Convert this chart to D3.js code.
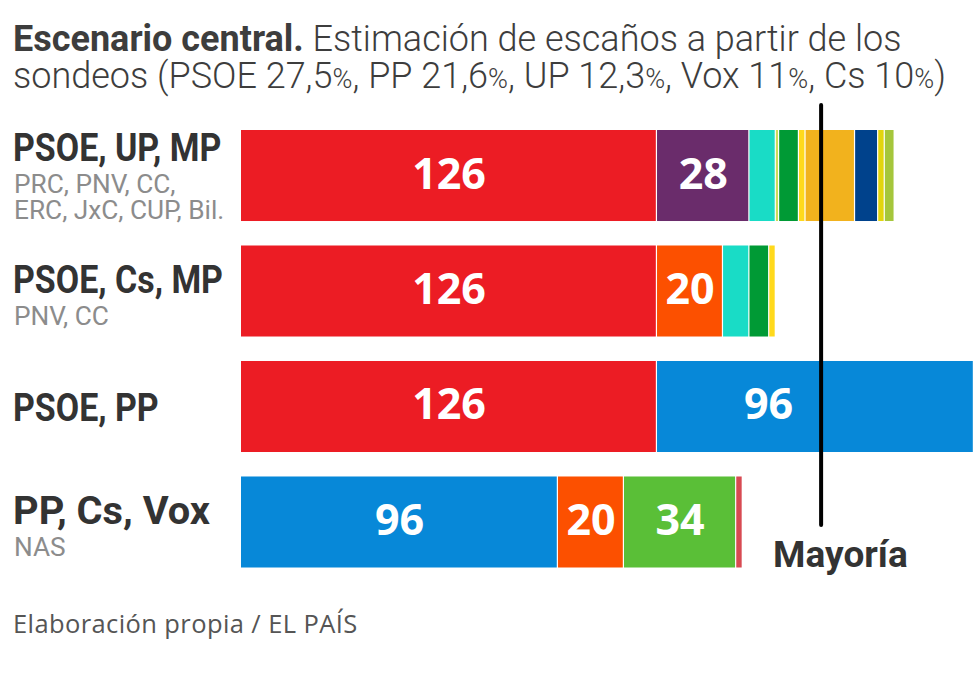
<!DOCTYPE html>
<html>
<head>
<meta charset="utf-8">
<script src="https://cdn.jsdelivr.net/npm/d3@7"></script>
<style>
  html, body { margin: 0; padding: 0; background: #fff; }
  svg { display: block; }
</style>
</head>
<body>
<svg id="chart" width="980" height="677"></svg>
<script>
// ---- Data ----
const coalitions = ["PSOE, UP, MP", "PSOE, Cs, MP", "PSOE, PP", "PP, Cs, Vox"];
const partners = [["PRC, PNV, CC,", "ERC, JxC, CUP, Bil."], ["PNV, CC"], [], ["NAS"]];
const barParties = [
  ["PSOE", "UP", "MP", "PRC", "PNV", "CC", "ERC", "JxC", "CUP", "Bil"],
  ["PSOE", "Cs", "MP", "PNV", "CC"],
  ["PSOE", "PP"],
  ["PP", "Cs", "Vox", "NAS"]
];
const barSeats = [
  [126, 28, 8, 1, 6, 2, 15, 7, 2, 3],
  [126, 20, 8, 6, 2],
  [126, 96],
  [96, 20, 34, 2]
];
const partyNames = ["PSOE", "UP", "MP", "PRC", "PNV", "CC", "ERC", "JxC", "CUP", "Bil", "Cs", "PP", "Vox", "NAS"];
const partyColors = ["#ec1c24", "#6a2c6b", "#19dcc6", "#c9dc5a", "#009a35", "#ffd91c", "#f2b21d", "#00428c", "#e2d50e", "#a5c63b", "#fc5000", "#0788d8", "#5abf37", "#d84a52"];
const majority = 176;
const maxSeats = 222;
const titleBold = "Escenario central.";
const titleLine1 = " Estimación de escaños a partir de los";
const titleLine2 = [["sondeos (PSOE 27,5", "%"], [", PP 21,6", "%"], [", UP 12,3", "%"], [", Vox 11", "%"], [", Cs 10", "%"], [")", ""]];
const majorityLabel = "Mayoría";
const source = "Elaboración propia / EL PAÍS";

// ---- Setup ----
const svg = d3.select("#chart");
const color = d3.scaleOrdinal().domain(partyNames).range(partyColors);
const x = d3.scaleLinear().domain([0, maxSeats]).range([241, 974]);
const y = d3.scaleBand().domain(coalitions).range([130, 567.5]).paddingInner(0.212).paddingOuter(0);

const condFont = "Roboto, 'Liberation Sans', sans-serif";
const numFont = "'Open Sans', sans-serif";
const sx = 0.87; // condensed look

// ---- Title ----
const title = svg.append("g").attr("transform", `translate(13,0)`);
const t1 = title.append("text").attr("x", 0).attr("y", 51)
  .attr("font-family", condFont).attr("font-size", 36).attr("fill", "#3d3d3d");
t1.append("tspan").attr("font-weight", 700).text(titleBold);
t1.append("tspan").attr("font-weight", 300).text(titleLine1);
const t2 = title.append("text").attr("x", 0).attr("y", 88)
  .attr("font-family", condFont).attr("font-size", 36).attr("font-weight", 300).attr("fill", "#3d3d3d");
titleLine2.forEach(([a, b]) => {
  t2.append("tspan").text(a);
  if (b) t2.append("tspan").attr("font-size", 27).text(b);
});

// ---- Bars ----
const rows = coalitions.map((c, i) => {
  let acc = 0;
  const segs = barParties[i].map((p, j) => {
    const s = { party: p, v: barSeats[i][j], x0: acc, x1: acc + barSeats[i][j] };
    acc += barSeats[i][j];
    return s;
  });
  return { name: c, idx: i, partners: partners[i], segs };
});

const rowG = svg.selectAll("g.row").data(rows).join("g").attr("class", "row");

rowG.selectAll("rect").data(d => d.segs.map(s => ({ ...s, row: d.name })))
  .join("rect")
  .attr("x", d => x(d.x0))
  .attr("y", d => y(d.row))
  .attr("width", d => Math.max(0.8, x(d.x1) - x(d.x0) - 1.2))
  .attr("height", y.bandwidth())
  .attr("fill", d => color(d.party));

// ---- Majority line ----
const mx = x(majority) - 1;
svg.append("line")
  .attr("x1", mx).attr("x2", mx)
  .attr("y1", 105).attr("y2", 525)
  .attr("stroke", "#000").attr("stroke-width", 4).attr("stroke-linecap", "round");

// ---- Value labels ----
rowG.selectAll("text.val").data(d => d.segs.filter(s => s.v >= 20).map(s => ({ ...s, row: d.name })))
  .join("text")
  .attr("class", "val")
  .each(function (d) {
    let cx = (x(d.x0) + x(d.x1)) / 2;
    let anchor = "middle";
    if (x(d.x0) < mx && x(d.x1) > mx) { cx = mx - 28; anchor = "end"; }
    d3.select(this).attr("x", cx).attr("text-anchor", anchor);
  })
  .attr("y", d => y(d.row) + y.bandwidth() / 2 + 13)
  .attr("font-family", numFont).attr("font-weight", 700).attr("font-size", 43)
  .attr("fill", "#fff")
  .text(d => d.v);

// ---- Row labels ----
const firstOffset = [60, 48, 31];
rowG.each(function (d) {
  const g = d3.select(this);
  const top = y(d.name);
  const base = top + firstOffset[d.partners.length];
  const mainScale = d.idx === 3 ? 1.02 : sx;
  g.append("g").attr("transform", `translate(13,${base}) scale(${mainScale},1)`)
    .append("text")
    .attr("font-family", condFont).attr("font-weight", 700).attr("font-size", 39)
    .attr("fill", "#333").text(d.name);
  d.partners.forEach((p, k) => {
    g.append("g").attr("transform", `translate(14,${base + 32 + k * 26}) scale(0.99,1)`)
      .append("text")
      .attr("font-family", condFont).attr("font-weight", 400).attr("font-size", 26.5)
      .attr("fill", "#8c8c8c").text(p);
  });
});

// ---- Majority label ----
svg.append("g").attr("transform", `translate(${mx - 48},567) scale(1.0,1)`)
  .append("text")
  .attr("font-family", condFont).attr("font-weight", 700).attr("font-size", 37)
  .attr("fill", "#333").text(majorityLabel);

// ---- Source ----
svg.append("text").attr("x", 13).attr("y", 633)
  .attr("font-family", "'Open Sans', sans-serif").attr("font-weight", 400).attr("font-size", 25.5)
  .attr("letter-spacing", 0.4)
  .attr("fill", "#555").text(source);
</script>
</body>
</html>
